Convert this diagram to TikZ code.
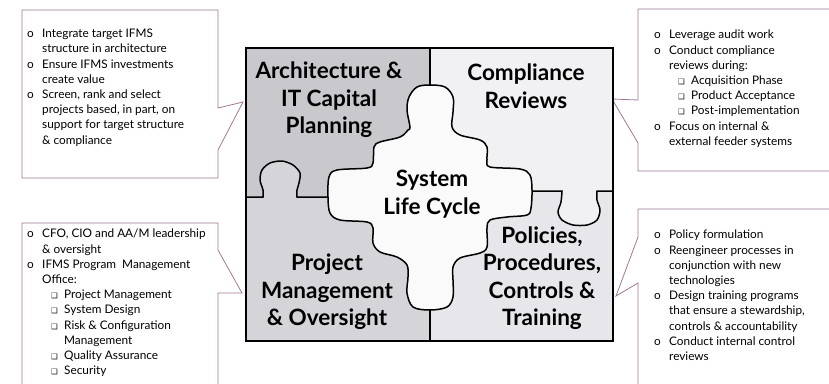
\documentclass[tikz,border=0pt]{standalone}
\usepackage{fontspec}
\setmainfont{Lato}
\newfontfamily\symfont{DejaVu Sans}

\definecolor{calloutline}{RGB}{160,120,150}
\definecolor{archgray}{RGB}{201,200,205}
\definecolor{projgray}{RGB}{213,212,217}
\definecolor{compgray}{RGB}{241,240,243}
\definecolor{polgray}{RGB}{231,230,234}
\definecolor{lifegray}{RGB}{250,250,250}

\newcommand{\bitem}{\makebox[15pt][l]{o}}
\newcommand{\bcont}{\hspace*{15pt}}
\newcommand{\sqbox}{{\symfont\fontsize{7.5}{7.5}\selectfont ❑}}
\newcommand{\sitem}{\hspace*{24pt}\makebox[13pt][l]{\sqbox}}
\newcommand{\scont}{\hspace*{37pt}}

\tikzset{
    callout/.style={draw=calloutline, fill=white, line width=0.8pt},
    piece/.style={draw=black, line width=1.5pt},
    label/.style={font=\fontsize{22.5}{27.5}\selectfont\bfseries, align=center},
    note/.style={font=\fontsize{11.8}{15.2}\selectfont, align=left, anchor=north west, inner sep=0pt}
}

\begin{document}
\begin{tikzpicture}[x=1pt,y=-1pt]

    \useasboundingbox (0,0) rectangle (829,383);
    \clip (0,0) rectangle (829,383);
    \fill[white] (0,0) rectangle (829,383);

    % Callouts
    \draw[callout] (22,10) -- (218,10) -- (218,108) -- (243,102) -- (218,150) -- (218,178) -- (22,178) -- cycle;
    \draw[callout] (840,9) -- (638,9) -- (638,100) -- (612,99) -- (638,143) -- (638,171) -- (840,171);
    \draw[callout] (22,400) -- (22,223) -- (218,223) -- (218,250) -- (242,293) -- (218,293) -- (218,400);
    \draw[callout] (840,209) -- (638,209) -- (638,237) -- (616,296) -- (638,283) -- (638,400);

    \node[note] (archnote) at (27,29) {\bitem Integrate target IFMS\\ \bcont structure in architecture\\
        \bitem Ensure IFMS investments\\ \bcont create value\\
        \bitem Screen, rank and select\\ \bcont projects based, in part, on\\
        \bcont support for target structure\\ \bcont \& compliance};
    \node[note] (compnote) at (654,30) {\bitem Leverage audit work\\
        \bitem Conduct compliance\\ \bcont reviews during:\\
        \sitem Acquisition Phase\\ \sitem Product Acceptance\\ \sitem Post-implementation\\
        \bitem Focus on internal \&\\ \bcont external feeder systems};
    \node[note] (projnote) at (27,229) {\bitem CFO, CIO and AA/M leadership\\ \bcont \& oversight\\
        \bitem IFMS Program\ \ Management\\ \bcont Office:\\
        \sitem Project Management\\ \sitem System Design\\
        \sitem Risk \& Configuration\\ \scont Management\\
        \sitem Quality Assurance\\ \sitem Security};
    \node[note] (polnote) at (654,230) {\bitem Policy formulation\\
        \bitem Reengineer processes in\\ \bcont conjunction with new\\ \bcont technologies\\
        \bitem Design training programs\\ \bcont that ensure a stewardship,\\ \bcont controls \& accountability\\
        \bitem Conduct internal control\\ \bcont reviews};

    % Puzzle pieces
    \fill[archgray] (246,48) rectangle (430,197);
    \fill[projgray] (246,197) rectangle (430,341);
    \fill[compgray] (430,48) rectangle (613,191);
    \fill[polgray] (430,191) rectangle (613,341);

    \fill[projgray] plot[smooth] coordinates {(263,197) (263,190) (260,180) (262,170) (270,163) (282,161) (293,165) (300,173) (299,183) (297,190) (297,197)} -- cycle;
    \fill[compgray] plot[smooth] coordinates {(562,191) (561,202) (558,212) (562,220) (573,225) (587,225) (597,220) (600,210) (597,200) (597,191)} -- cycle;

    \draw[piece] (246,197) -- plot[smooth] coordinates {(263,197) (263,190) (260,180) (262,170) (270,163) (282,161) (293,165) (300,173) (299,183) (297,190) (297,197)} -- (332,197);
    \draw[piece] (528,191) -- plot[smooth] coordinates {(562,191) (561,202) (558,212) (562,220) (573,225) (587,225) (597,220) (600,210) (597,200) (597,191)} -- (613,191);
    \draw[piece] (430,48) -- (430,90);
    \draw[piece] (430,305) -- (430,341);

    % Centre piece
    \filldraw[piece, fill=lifegray] plot[smooth cycle, tension=0.55] coordinates {
        (430,85) (445,87) (453,97) (453,112) (452,127) (460,135) (480,140) (487,147)
        (487,160) (490,167) (520,169) (530,175) (532,190) (531,208) (527,215) (507,217)
        (490,220) (487,228) (487,247) (480,253) (460,258) (453,267) (453,280) (453,297)
        (447,307) (430,310) (413,307) (407,293) (408,277) (407,265) (397,257) (380,252)
        (373,243) (373,228) (367,222) (340,220) (330,213) (328,197) (329,177) (337,170)
        (367,168) (373,163) (374,147) (380,142) (400,137) (408,130) (410,127) (407,110)
        (409,97) (417,87)};

    \draw[black, line width=1.6pt] (246,48) rectangle (613,341);

    % Labels
    \node[label] (arch) at (329,100) {Architecture \&\\IT Capital\\Planning};
    \node[label] (comp) at (526,86) {Compliance\\Reviews};
    \node[label] (life) at (432,194) {System\\Life Cycle};
    \node[label] (proj) at (327,292) {Project\\Management\\\& Oversight};
    \node[label] (pol) at (542,278) {Policies,\\Procedures,\\Controls \&\\Training};

\end{tikzpicture}
\end{document}
